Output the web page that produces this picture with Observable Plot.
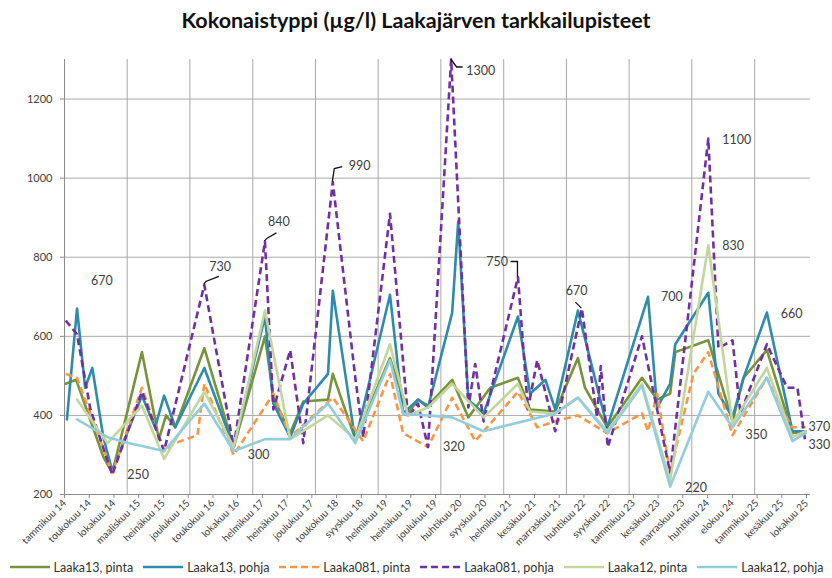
<!DOCTYPE html>
<html>
<head>
<meta charset="utf-8">
<script src="https://cdn.jsdelivr.net/npm/d3@7"></script>
<script src="https://cdn.jsdelivr.net/npm/@observablehq/plot@0.6"></script>
<style>
  body { margin: 0; background: #fff; font-family: Lato, "Open Sans", sans-serif; }
  #title { height: 40px; line-height: 40px; text-align: center; font-weight: bold; font-size: 21.5px; color: #111; }
  #chart { height: 512px; }
  #legend { height: 26px; display: flex; justify-content: center; align-items: center; gap: 9px; font-size: 12.5px; color: #333; padding-top: 2px; }
  .item { display: flex; align-items: center; gap: 3px; white-space: nowrap; }
</style>
</head>
<body>
<div id="title">Kokonaistyppi (µg/l) Laakajärven tarkkailupisteet</div>
<div id="chart"></div>
<div id="legend"></div>
<script>
// ---------- data ----------
const seriesNames = ["Laaka13, pinta", "Laaka13, pohja", "Laaka081, pinta", "Laaka081, pohja", "Laaka12, pinta", "Laaka12, pohja"];

const laaka13PintaDates = ["2014-01-08","2014-03-10","2014-08-15","2014-10-06","2015-03-28","2015-07-05","2015-08-15","2015-10-08","2016-03-25","2016-09-12","2017-03-13","2017-05-01","2017-08-07","2017-10-22","2018-03-15","2018-04-12","2018-08-21","2019-03-11","2019-06-24","2019-08-21","2019-10-18","2020-03-07","2020-06-09","2020-10-15","2021-03-25","2021-06-03","2021-10-28","2022-03-09","2022-04-19","2022-08-27","2023-03-17","2023-06-13","2023-08-28","2023-09-27","2024-04-06","2024-08-25","2024-10-28","2025-03-13","2025-08-09","2025-10-24"];
const laaka13PintaValues = [480,490,295,255,560,340,400,370,570,320,600,445,355,435,440,505,340,545,405,440,425,490,395,470,495,415,410,545,470,370,495,440,455,560,590,385,495,565,355,360];

const laaka13PohjaDates = ["2014-01-15","2014-03-15","2014-05-01","2014-06-12","2014-08-15","2014-10-06","2015-03-28","2015-06-12","2015-08-04","2015-10-08","2016-03-25","2016-09-12","2017-03-13","2017-05-01","2017-08-07","2017-10-22","2018-03-15","2018-04-12","2018-08-21","2019-03-11","2019-05-26","2019-08-21","2019-10-18","2020-03-07","2020-04-11","2020-06-09","2020-09-06","2021-03-25","2021-06-03","2021-09-01","2021-10-28","2022-03-09","2022-08-27","2023-04-21","2023-06-13","2023-08-28","2023-09-27","2024-04-06","2024-06-04","2024-08-25","2024-10-28","2025-03-13","2025-08-09","2025-10-24"];
const laaka13PohjaValues = [390,670,470,520,345,260,450,370,450,370,520,320,650,430,345,430,505,715,335,705,405,440,420,660,890,440,405,650,455,490,415,665,370,700,420,480,580,710,455,395,495,660,360,360];

const laaka081PintaDates = ["2014-01-08","2014-03-15","2014-10-06","2015-03-28","2015-08-04","2015-10-08","2016-02-14","2016-03-25","2016-09-12","2017-05-01","2017-08-07","2018-04-12","2018-10-06","2019-03-11","2019-05-26","2019-10-18","2020-03-07","2020-07-19","2021-03-25","2021-07-15","2021-10-28","2022-03-09","2022-08-27","2023-03-17","2023-04-21","2023-06-13","2023-08-28","2024-01-10","2024-04-06","2024-08-25","2025-03-13","2025-08-05","2025-10-24"];
const laaka081PintaValues = [505,495,255,470,310,330,350,480,300,455,345,445,335,505,355,320,445,335,460,370,385,400,355,405,360,455,255,505,560,350,495,370,370];

const laaka081PohjaDates = ["2014-01-08","2014-03-15","2014-06-01","2014-10-06","2015-03-28","2015-08-04","2016-03-25","2016-09-12","2017-03-13","2017-05-01","2017-08-07","2017-10-22","2018-04-12","2018-08-21","2018-10-06","2019-03-11","2019-06-24","2019-08-21","2019-10-18","2020-03-01","2020-06-09","2020-07-19","2020-09-06","2021-03-25","2021-05-22","2021-07-15","2021-10-28","2022-04-01","2022-06-28","2022-07-20","2022-08-30","2023-03-17","2023-08-28","2024-04-06","2024-06-04","2024-08-25","2024-10-10","2025-03-13","2025-07-09","2025-09-07","2025-10-24"];
const laaka081PohjaValues = [640,605,415,250,460,310,730,320,840,415,565,330,990,495,345,910,395,430,320,1300,420,530,385,750,415,540,360,670,395,525,320,600,255,1100,570,590,405,580,470,470,330];

const laaka12PintaDates = ["2014-03-15","2014-09-08","2015-03-28","2015-08-04","2016-03-25","2016-09-12","2017-03-13","2017-08-07","2018-03-15","2018-08-21","2019-03-11","2019-06-24","2019-10-18","2020-03-07","2020-09-06","2021-03-25","2021-06-03","2021-10-28","2022-03-09","2022-08-27","2023-03-17","2023-08-28","2024-04-06","2024-08-25","2025-03-13","2025-08-09","2025-10-24"];
const laaka12PintaValues = [440,330,425,290,460,320,665,340,400,340,580,400,420,480,395,480,410,405,445,360,480,235,830,380,520,345,360];

const laaka12PohjaDates = ["2014-03-15","2014-09-08","2015-01-08","2015-08-04","2016-03-25","2016-09-12","2017-03-13","2017-08-07","2018-03-15","2018-08-21","2019-03-11","2019-05-26","2020-03-07","2020-09-06","2021-10-28","2022-03-09","2022-08-27","2023-03-17","2023-08-28","2024-04-06","2024-08-25","2025-03-13","2025-08-09","2025-10-24"];
const laaka12PohjaValues = [390,345,330,310,430,310,340,340,430,330,540,405,395,360,405,445,355,475,220,460,370,495,335,355];

const tickLabels = ["tammikuu 14","toukokuu 14","lokakuu 14","maaliskuu 15","heinäkuu 15","joulukuu 15","toukokuu 16","lokakuu 16","helmikuu 17","heinäkuu 17","joulukuu 17","toukokuu 18","syyskuu 18","helmikuu 19","heinäkuu 19","joulukuu 19","huhtikuu 20","syyskuu 20","helmikuu 21","kesäkuu 21","marraskuu 21","huhtikuu 22","syyskuu 22","tammikuu 23","kesäkuu 23","marraskuu 23","huhtikuu 24","elokuu 24","tammikuu 25","kesäkuu 25","lokakuu 25"];
const yTicks = [200, 400, 600, 800, 1000, 1200];

// data labels (value shown next to a point)
const labelDates  = ["2014-03-15","2014-10-06","2016-03-25","2016-09-12","2017-03-13","2018-04-12","2020-03-01","2019-10-18","2021-03-25","2022-04-01","2023-04-21","2023-08-28","2024-04-06","2024-04-06","2024-08-25","2025-03-13","2025-10-24","2025-10-24"];
const labelValues = [670,250,730,300,840,990,1300,320,750,670,700,220,830,1100,350,660,370,330];

// ---------- styles / layout ----------
const seriesColors = ["#77933C", "#2F8BAA", "#F79646", "#7030A0", "#C3D69B", "#93CDDD"];
const seriesDash = [null, null, "7,4", "7,4", null, null];
// per label: [dx, dy, anchor, leader polyline offsets]
const labelLayout = [
  [14, -28, "start", null],
  [15, 0, "start", null],
  [5, -18, "start", [[0,0],[2,-3],[15,-8]]],
  [14, 0, "start", null],
  [3, -19, "start", [[0,0],[3,-3],[12,-8]]],
  [16, -16, "start", [[0,0],[2,-13],[10,-15]]],
  [15, 11, "start", [[0,0],[6,8],[12,8]]],
  [15, 0, "start", null],
  [-10, -15, "end", [[0,0],[0,-15],[-7,-15]]],
  [-16, -18, "start", [[0,0],[-6,-6]]],
  [13, 0, "start", null],
  [15, 1, "start", null],
  [14, 1, "start", null],
  [14, 1, "start", null],
  [13, 0, "start", null],
  [14, 1, "start", null],
  [3, 0, "start", null],
  [3, 2, "start", null]
];

const parse = d3.utcParse("%Y-%m-%d");
const allDates = [laaka13PintaDates, laaka13PohjaDates, laaka081PintaDates, laaka081PohjaDates, laaka12PintaDates, laaka12PohjaDates];
const allValues = [laaka13PintaValues, laaka13PohjaValues, laaka081PintaValues, laaka081PohjaValues, laaka12PintaValues, laaka12PohjaValues];

const start = new Date(Date.UTC(2014, 0, 1));
const end = new Date(Date.UTC(2025, 10, 22));
const tickDates = tickLabels.map((_, i) => d3.utcDay.offset(start, 144 * i));
const labelByTime = new Map(tickDates.map((d, i) => [+d, tickLabels[i]]));
const yearLines = d3.utcYear.range(new Date(Date.UTC(2015, 0, 1)), new Date(Date.UTC(2025, 1, 1)));

const gridColor = "#a9a9a9";
const marks = [
  Plot.gridY(yTicks.slice(1), {stroke: gridColor, strokeOpacity: 1, strokeWidth: 1}),
  Plot.ruleX(yearLines, {stroke: gridColor, strokeWidth: 1}),
  Plot.ruleY([200], {stroke: "#8c8c8c"}),
  Plot.ruleX([start], {stroke: "#8c8c8c"}),
  Plot.axisY({ticks: yTicks, tickFormat: d => String(d), tickSize: 4, tickPadding: 8, fontSize: 11, fill: "#404040", stroke: "#8c8c8c", label: null}),
  Plot.axisX({ticks: tickDates, tickFormat: d => labelByTime.get(+d), tickRotate: -45, tickSize: 4, tickPadding: 3, fontSize: 10, fill: "#404040", stroke: "#8c8c8c", label: null})
];

seriesNames.forEach((name, i) => {
  const rows = allDates[i].map((d, j) => ({date: parse(d), value: allValues[i][j]}));
  marks.push(Plot.line(rows, {
    x: "date", y: "value",
    stroke: seriesColors[i], strokeWidth: 2.6,
    strokeDasharray: seriesDash[i] || undefined,
    strokeLinejoin: "round", strokeLinecap: seriesDash[i] ? "butt" : "round"
  }));
});

labelDates.forEach((d, i) => {
  const [dx, dy, anchor] = labelLayout[i];
  marks.push(Plot.text([{date: parse(d), value: labelValues[i]}], {
    x: "date", y: "value", text: r => String(r.value),
    dx, dy, textAnchor: anchor, fontSize: 12.5, fill: "#404040", fontFamily: "Lato, sans-serif"
  }));
});

const chart = Plot.plot({
  width: 832,
  height: 512,
  marginLeft: 64,
  marginRight: 22,
  marginTop: 19,
  marginBottom: 58,
  style: {fontFamily: "Lato, sans-serif", background: "#fff", overflow: "visible"},
  x: {type: "utc", domain: [start, end]},
  y: {domain: [200, 1300]},
  marks
});
document.getElementById("chart").appendChild(chart);

// leader lines for some labels, positioned through the plot's scales
const sx = chart.scale("x"), sy = chart.scale("y");
const svg = d3.select(chart);
labelDates.forEach((d, i) => {
  const leader = labelLayout[i][3];
  if (!leader) return;
  const px = sx.apply(parse(d)), py = sy.apply(labelValues[i]);
  svg.append("path")
    .attr("d", "M" + leader.map(([ox, oy]) => `${px + ox},${py + oy}`).join("L"))
    .attr("fill", "none").attr("stroke", "#111").attr("stroke-width", 1.3);
});

// legend
const legend = document.getElementById("legend");
seriesNames.forEach((name, i) => {
  const item = document.createElement("div");
  item.className = "item";
  const dash = seriesDash[i] ? `stroke-dasharray="7,4"` : "";
  item.innerHTML = `<svg width="42" height="10"><line x1="1" y1="5" x2="41" y2="5" stroke="${seriesColors[i]}" stroke-width="2.6" ${dash}/></svg><span>${name}</span>`;
  legend.appendChild(item);
});
</script>
</body>
</html>
